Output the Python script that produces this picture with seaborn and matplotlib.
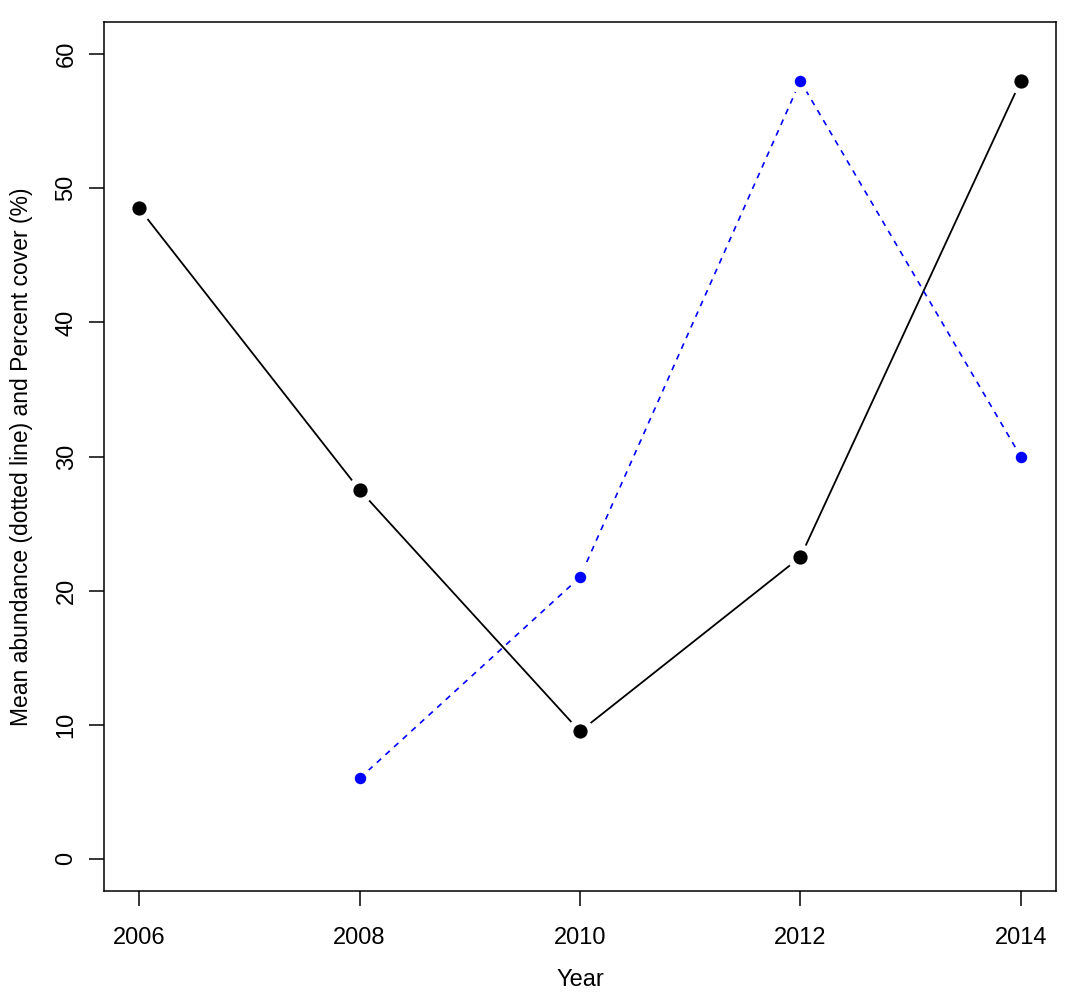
import pandas as pd
import seaborn as sns
import matplotlib
matplotlib.use('Agg')
import matplotlib.pyplot as plt

# values
years = [2006, 2008, 2010, 2012, 2014]
percent_cover = [48.5, 27.5, 9.5, 22.5, 58.0]     # solid black line
blue_years = [2008, 2010, 2012, 2014]
mean_abundance = [6.0, 21.0, 58.0, 30.0]          # dotted blue line
x_ticks = [2006, 2008, 2010, 2012, 2014]
y_ticks = [0, 10, 20, 30, 40, 50, 60]

cover_df = pd.DataFrame({'Year': years, 'Value': percent_cover})
abund_df = pd.DataFrame({'Year': blue_years, 'Value': mean_abundance})

sns.set_theme(style='white')
plt.rcParams['font.family'] = ['Liberation Sans', 'DejaVu Sans']
plt.rcParams['text.color'] = 'black'
plt.rcParams['axes.labelcolor'] = 'black'
plt.rcParams['xtick.color'] = 'black'
plt.rcParams['ytick.color'] = 'black'

fig = plt.figure(figsize=(10.9, 9.97), dpi=100)
ax = fig.add_axes([0.0954, 0.1063, 0.9688 - 0.0954, 0.9779 - 0.1063])

# R type="b" look: white marker edges leave a gap in the line round each point
sns.lineplot(data=cover_df, x='Year', y='Value', ax=ax, color='black', linewidth=1.3,
             marker='o', markersize=14, markerfacecolor='black',
             markeredgecolor='white', markeredgewidth=5)
sns.lineplot(data=abund_df, x='Year', y='Value', ax=ax, color='#0000ff', linewidth=1.2,
             linestyle=(0, (3.5, 3.5)), marker='o', markersize=12,
             markerfacecolor='#0000ff', markeredgecolor='white', markeredgewidth=5)

# redraw the points themselves on top without the halo
ax.scatter(years, percent_cover, s=105, color='black', zorder=5, linewidths=0)
ax.scatter(blue_years, mean_abundance, s=68, color='#0000ff', zorder=5, linewidths=0)

ax.set_xlim(2005.68, 2014.32)
ax.set_ylim(-2.4, 62.4)
ax.set_xticks(x_ticks)
ax.set_yticks(y_ticks)
ax.set_yticklabels([str(v) for v in y_ticks], rotation=90, va='center')
ax.tick_params(axis='both', direction='out', length=11, width=1.1, color='black',
               labelcolor='black', labelsize=17, left=True, bottom=True)
ax.tick_params(axis='x', pad=15)
ax.tick_params(axis='y', pad=8)
for s in ax.spines.values():
    s.set_color('black')
    s.set_linewidth(1.1)

ax.set_xlabel('Year', fontsize=17, labelpad=14, color='black')
ax.set_ylabel('Mean abundance (dotted line) and Percent cover (%)', fontsize=16.5,
              labelpad=16, color='black')

fig.savefig('out.png', dpi=100)
